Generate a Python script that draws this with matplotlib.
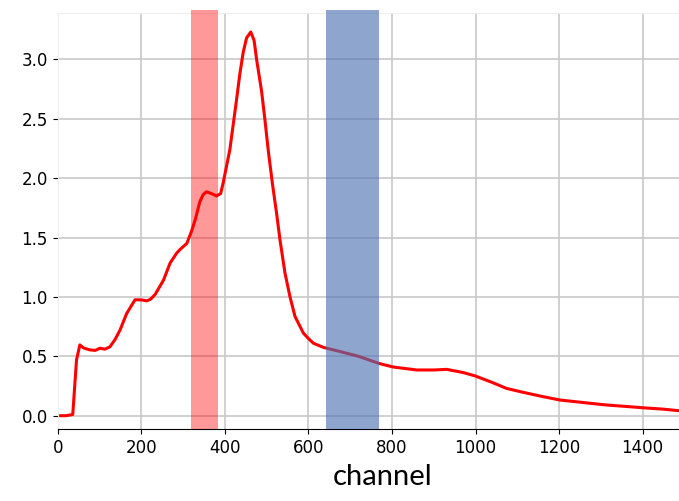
import matplotlib
matplotlib.use("Agg")
import matplotlib.pyplot as plt

# spectrum
channel = [0, 20, 36, 45, 53, 62, 77, 90, 101, 113, 125, 137, 149, 165, 185, 200,
           213, 222, 233, 253, 269, 285, 293, 309, 320, 330, 340, 348, 356, 368,
           380, 390, 396, 404, 412, 420, 428, 436, 444, 452, 462, 470, 476, 488,
           496, 504, 514, 524, 532, 544, 556, 568, 588, 600, 612, 636, 676, 720,
           769, 803, 859, 900, 931, 971, 999, 1040, 1074, 1110, 1154, 1202, 1260,
           1314, 1360, 1400, 1450, 1487]
signal = [0.0, 0.0, 0.01, 0.47, 0.596, 0.57, 0.554, 0.55, 0.568, 0.56, 0.58, 0.64,
          0.72, 0.86, 0.976, 0.975, 0.967, 0.98, 1.02, 1.14, 1.285, 1.37, 1.40, 1.45,
          1.55, 1.66, 1.80, 1.86, 1.885, 1.87, 1.85, 1.87, 1.96, 2.10, 2.24, 2.45,
          2.66, 2.88, 3.06, 3.18, 3.23, 3.16, 3.0, 2.73, 2.49, 2.23, 1.95, 1.70,
          1.48, 1.20, 1.00, 0.835, 0.695, 0.65, 0.61, 0.575, 0.54, 0.50, 0.44, 0.41,
          0.385, 0.385, 0.39, 0.363, 0.335, 0.28, 0.23, 0.20, 0.166, 0.132, 0.11,
          0.09, 0.078, 0.067, 0.055, 0.042]

red_band = (319, 383)
blue_band = (642, 769)

fig = plt.figure(figsize=(6.79, 5.01), dpi=100)
ax = fig.add_axes([0.085, 0.1437, 0.915, 0.8303])

ax.plot(channel, signal, color='#ff0000', lw=2.2, zorder=2)
ax.axvspan(*red_band, ymin=0, ymax=1.007, color='#ff0000', alpha=0.4, lw=0,
           zorder=3, clip_on=False)
ax.axvspan(*blue_band, ymin=0, ymax=1.007, color='#4c72b0', alpha=0.63, lw=0,
           zorder=3, clip_on=False)

ax.set_xlim(0, 1487)
ax.set_ylim(-0.112, 3.39)
ax.set_xticks([0, 200, 400, 600, 800, 1000, 1200, 1400])
ax.set_yticks([0.0, 0.5, 1.0, 1.5, 2.0, 2.5, 3.0])
ax.tick_params(labelsize=12)

ax.grid(True, color='#c8c8c8', lw=1.2)
ax.set_axisbelow(True)
for side in ['top', 'right', 'left']:
    ax.spines[side].set_color('#eeeeee')
ax.spines['right'].set_visible(False)
ax.spines['bottom'].set_color('black')

ax.set_xlabel('channel', fontsize=21, family='Lato')
ax.xaxis.set_label_coords(0.523, -0.085)

plt.savefig('out.png', dpi=100)
